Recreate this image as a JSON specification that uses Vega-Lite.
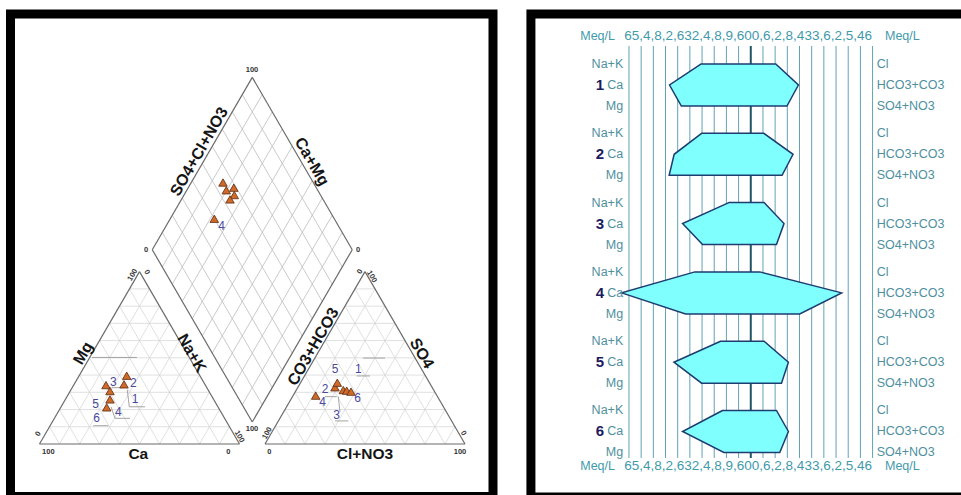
{
  "$schema": "https://vega.github.io/schema/vega-lite/v6.json",
  "width": 961,
  "height": 495,
  "autosize": {"type": "none"},
  "padding": 0,
  "background": "white",
  "config": {"view": {"stroke": null}, "text": {"font": "Liberation Sans"}},
  "datasets": {
    "triGrid": [
      {"x":5,"y":8.66,"x2":95,"y2":8.66},{"x":10,"y":17.32,"x2":90,"y2":17.32},{"x":15,"y":25.98,"x2":85,"y2":25.98},
      {"x":20,"y":34.64,"x2":80,"y2":34.64},{"x":25,"y":43.3,"x2":75,"y2":43.3},{"x":30,"y":51.96,"x2":70,"y2":51.96},
      {"x":35,"y":60.62,"x2":65,"y2":60.62},{"x":40,"y":69.28,"x2":60,"y2":69.28},{"x":45,"y":77.94,"x2":55,"y2":77.94},
      {"x":10,"y":0,"x2":55,"y2":77.94},{"x":20,"y":0,"x2":60,"y2":69.28},{"x":30,"y":0,"x2":65,"y2":60.62},
      {"x":40,"y":0,"x2":70,"y2":51.96},{"x":50,"y":0,"x2":75,"y2":43.3},{"x":60,"y":0,"x2":80,"y2":34.64},
      {"x":70,"y":0,"x2":85,"y2":25.98},{"x":80,"y":0,"x2":90,"y2":17.32},{"x":90,"y":0,"x2":95,"y2":8.66},
      {"x":10,"y":0,"x2":5,"y2":8.66},{"x":20,"y":0,"x2":10,"y2":17.32},{"x":30,"y":0,"x2":15,"y2":25.98},
      {"x":40,"y":0,"x2":20,"y2":34.64},{"x":50,"y":0,"x2":25,"y2":43.3},{"x":60,"y":0,"x2":30,"y2":51.96},
      {"x":70,"y":0,"x2":35,"y2":60.62},{"x":80,"y":0,"x2":40,"y2":69.28},{"x":90,"y":0,"x2":45,"y2":77.94},
      {"x":117.75,"y":8.66,"x2":207.75,"y2":8.66},{"x":122.75,"y":17.32,"x2":202.75,"y2":17.32},{"x":127.75,"y":25.98,"x2":197.75,"y2":25.98},
      {"x":132.75,"y":34.64,"x2":192.75,"y2":34.64},{"x":137.75,"y":43.3,"x2":187.75,"y2":43.3},{"x":142.75,"y":51.96,"x2":182.75,"y2":51.96},
      {"x":147.75,"y":60.62,"x2":177.75,"y2":60.62},{"x":152.75,"y":69.28,"x2":172.75,"y2":69.28},{"x":157.75,"y":77.94,"x2":167.75,"y2":77.94},
      {"x":122.75,"y":0,"x2":167.75,"y2":77.94},{"x":132.75,"y":0,"x2":172.75,"y2":69.28},{"x":142.75,"y":0,"x2":177.75,"y2":60.62},
      {"x":152.75,"y":0,"x2":182.75,"y2":51.96},{"x":162.75,"y":0,"x2":187.75,"y2":43.3},{"x":172.75,"y":0,"x2":192.75,"y2":34.64},
      {"x":182.75,"y":0,"x2":197.75,"y2":25.98},{"x":192.75,"y":0,"x2":202.75,"y2":17.32},{"x":202.75,"y":0,"x2":207.75,"y2":8.66},
      {"x":122.75,"y":0,"x2":117.75,"y2":8.66},{"x":132.75,"y":0,"x2":122.75,"y2":17.32},{"x":142.75,"y":0,"x2":127.75,"y2":25.98},
      {"x":152.75,"y":0,"x2":132.75,"y2":34.64},{"x":162.75,"y":0,"x2":137.75,"y2":43.3},{"x":172.75,"y":0,"x2":142.75,"y2":51.96},
      {"x":182.75,"y":0,"x2":147.75,"y2":60.62},{"x":192.75,"y":0,"x2":152.75,"y2":69.28},{"x":202.75,"y":0,"x2":157.75,"y2":77.94}
    ],
    "diaGrid": [
      {"x":111.38,"y":19.7,"x2":61.38,"y2":106.3},{"x":116.38,"y":28.36,"x2":66.38,"y2":114.96},{"x":121.38,"y":37.02,"x2":71.38,"y2":123.62},
      {"x":126.38,"y":45.68,"x2":76.38,"y2":132.28},{"x":131.38,"y":54.34,"x2":81.38,"y2":140.94},{"x":136.38,"y":63.0,"x2":86.38,"y2":149.6},
      {"x":141.38,"y":71.66,"x2":91.38,"y2":158.26},{"x":146.38,"y":80.32,"x2":96.38,"y2":166.92},{"x":151.38,"y":88.98,"x2":101.38,"y2":175.58},
      {"x":101.38,"y":19.7,"x2":151.38,"y2":106.3},{"x":96.38,"y":28.36,"x2":146.38,"y2":114.96},{"x":91.38,"y":37.02,"x2":141.38,"y2":123.62},
      {"x":86.38,"y":45.68,"x2":136.38,"y2":132.28},{"x":81.38,"y":54.34,"x2":131.38,"y2":140.94},{"x":76.38,"y":63.0,"x2":126.38,"y2":149.6},
      {"x":71.38,"y":71.66,"x2":121.38,"y2":158.26},{"x":66.38,"y":80.32,"x2":116.38,"y2":166.92},{"x":61.38,"y":88.98,"x2":111.38,"y2":175.58}
    ],
    "outline": [
      {"x":0,"y":0,"x2":100,"y2":0},{"x":0,"y":0,"x2":50,"y2":86.6},{"x":100,"y":0,"x2":50,"y2":86.6},
      {"x":112.75,"y":0,"x2":212.75,"y2":0},{"x":112.75,"y":0,"x2":162.75,"y2":86.6},{"x":212.75,"y":0,"x2":162.75,"y2":86.6},
      {"x":106.38,"y":11.04,"x2":56.38,"y2":97.64},{"x":106.38,"y":11.04,"x2":156.38,"y2":97.64},
      {"x":56.38,"y":97.64,"x2":106.38,"y2":184.24},{"x":156.38,"y":97.64,"x2":106.38,"y2":184.24}
    ],
    "leaders": [
      {"x":43.9,"y":27.1,"x2":44.9,"y2":18.7},{"x":44.9,"y":18.7,"x2":52.75,"y2":18.7},{"x":36.1,"y":28.3,"x2":42.75,"y2":28.3},
      {"x":35.75,"y":18.7,"x2":37.75,"y2":12.9},{"x":37.75,"y":12.9,"x2":45.25,"y2":12.9},{"x":26.9,"y":9.2,"x2":34.4,"y2":9.2},
      {"x":26.25,"y":43.5,"x2":48.75,"y2":43.5},{"x":158.6,"y":34.2,"x2":165.25,"y2":34.2},{"x":147.75,"y":11.6,"x2":154.4,"y2":11.6},
      {"x":149.4,"y":23.8,"x2":150.25,"y2":16.2},{"x":142.75,"y":23.8,"x2":148.6,"y2":23.8},{"x":161.75,"y":43.2,"x2":172.75,"y2":43.2}
    ],
    "points": [
      {"x":43.6,"y":34.3},{"x":42.25,"y":30.0},{"x":33.25,"y":29.6},{"x":35.25,"y":26.6},{"x":35.25,"y":22.4},{"x":33.6,"y":18.4},
      {"x":138.1,"y":24.3},{"x":147.75,"y":28.5},{"x":148.9,"y":30.8},{"x":151.9,"y":27.1},{"x":153.6,"y":26.8},{"x":155.75,"y":26.3},
      {"x":91.75,"y":131.4},{"x":93.4,"y":127.5},{"x":97.15,"y":128.8},{"x":97.4,"y":125.1},{"x":95.25,"y":122.9},{"x":87.4,"y":113.2}
    ],
    "piperText": [
      {"t":"Ca","x":49.4,"y":-5.0,"k":"name0"},{"t":"Cl+NO3","x":162.75,"y":-5.0,"k":"name0"},
      {"t":"Mg","x":21.9,"y":45.6,"k":"nameL"},{"t":"CO3+HCO3","x":136.9,"y":48.9,"k":"nameL"},{"t":"SO4+Cl+NO3","x":79.9,"y":146.9,"k":"nameL"},
      {"t":"Na+K","x":76.1,"y":45.6,"k":"nameR"},{"t":"SO4","x":191.1,"y":45.6,"k":"nameR"},{"t":"Ca+Mg","x":136.1,"y":141.9,"k":"nameR"},
      {"t":"100","x":106.25,"y":187.9,"k":"tick0"},{"t":"0","x":53.25,"y":97.5,"k":"tick0"},{"t":"0","x":159.25,"y":97.5,"k":"tick0"},
      {"t":"100","x":106.25,"y":7.5,"k":"tick0"},{"t":"100","x":4.4,"y":-3.9,"k":"tick0"},{"t":"0","x":94.4,"y":-3.9,"k":"tick0"},
      {"t":"0","x":114.9,"y":-3.9,"k":"tick0"},{"t":"100","x":210.25,"y":-3.9,"k":"tick0"},
      {"t":"100","x":46.6,"y":84.9,"k":"tickL"},{"t":"0","x":-0.6,"y":5.0,"k":"tickL"},{"t":"0","x":160.25,"y":86.6,"k":"tickL"},{"t":"100","x":113.9,"y":5.4,"k":"tickL"},
      {"t":"0","x":53.6,"y":86.3,"k":"tickR"},{"t":"100","x":99.9,"y":3.7,"k":"tickR"},{"t":"100","x":166.1,"y":84.1,"k":"tickR"},{"t":"0","x":211.9,"y":5.4,"k":"tickR"},
      {"t":"3","x":36.9,"y":31.0,"k":"sample"},{"t":"2","x":46.9,"y":30.5,"k":"sample"},{"t":"1","x":47.75,"y":22.5,"k":"sample"},
      {"t":"5","x":28.1,"y":20.1,"k":"sample"},{"t":"4","x":39.4,"y":16.2,"k":"sample"},{"t":"6","x":28.6,"y":12.9,"k":"sample"},
      {"t":"5","x":147.75,"y":37.5,"k":"sample"},{"t":"1","x":159.4,"y":37.5,"k":"sample"},{"t":"2","x":142.75,"y":27.6,"k":"sample"},
      {"t":"4","x":141.6,"y":20.9,"k":"sample"},{"t":"6","x":159.1,"y":22.9,"k":"sample"},{"t":"3","x":148.6,"y":14.6,"k":"sample"},
      {"t":"4","x":91.1,"y":109.7,"k":"sample"}
    ],
    "frameL": [{"x":-14.5,"x2":226.75,"y":216.08,"y2":-26.38}],
    "stiffGrid": [
      {"m":-10},{"m":-9},{"m":-8},{"m":-7},{"m":-6},{"m":-5},{"m":-4},{"m":-3},{"m":-2},{"m":-1},
      {"m":1},{"m":2},{"m":3},{"m":4},{"m":5},{"m":6},{"m":7},{"m":8},{"m":9},{"m":10}
    ],
    "stiff": [
      {"s":1,"r":1,"cat":-4.07,"an":2.05},{"s":1,"r":2,"cat":-6.67,"an":3.91},{"s":1,"r":3,"cat":-5.7,"an":2.97},
      {"s":2,"r":4.3,"cat":-4.04,"an":1.07},{"s":2,"r":5.3,"cat":-6.29,"an":3.47},{"s":2,"r":6.3,"cat":-6.7,"an":2.57},
      {"s":3,"r":7.6,"cat":-1.8,"an":1.09},{"s":3,"r":8.6,"cat":-5.6,"an":2.73},{"s":3,"r":9.6,"cat":-3.96,"an":2.11},
      {"s":4,"r":10.9,"cat":-4.59,"an":0.74},{"s":4,"r":11.9,"cat":-10.6,"an":7.46},{"s":4,"r":12.9,"cat":-5.35,"an":4.02},
      {"s":5,"r":14.2,"cat":-2.48,"an":1.09},{"s":5,"r":15.2,"cat":-6.31,"an":3.09},{"s":5,"r":16.2,"cat":-4.04,"an":2.52},
      {"s":6,"r":17.5,"cat":-2.32,"an":2.11},{"s":6,"r":18.5,"cat":-5.6,"an":3.09},{"s":6,"r":19.5,"cat":-2.21,"an":2.38}
    ],
    "ionL": [
      {"t":"Na+K","r":1},{"t":"Ca","r":2},{"t":"Mg","r":3},
      {"t":"Na+K","r":4.3},{"t":"Ca","r":5.3},{"t":"Mg","r":6.3},
      {"t":"Na+K","r":7.6},{"t":"Ca","r":8.6},{"t":"Mg","r":9.6},
      {"t":"Na+K","r":10.9},{"t":"Ca","r":11.9},{"t":"Mg","r":12.9},
      {"t":"Na+K","r":14.2},{"t":"Ca","r":15.2},{"t":"Mg","r":16.2},
      {"t":"Na+K","r":17.5},{"t":"Ca","r":18.5},{"t":"Mg","r":19.5}
    ],
    "ionR": [
      {"t":"Cl","r":1},{"t":"HCO3+CO3","r":2},{"t":"SO4+NO3","r":3},
      {"t":"Cl","r":4.3},{"t":"HCO3+CO3","r":5.3},{"t":"SO4+NO3","r":6.3},
      {"t":"Cl","r":7.6},{"t":"HCO3+CO3","r":8.6},{"t":"SO4+NO3","r":9.6},
      {"t":"Cl","r":10.9},{"t":"HCO3+CO3","r":11.9},{"t":"SO4+NO3","r":12.9},
      {"t":"Cl","r":14.2},{"t":"HCO3+CO3","r":15.2},{"t":"SO4+NO3","r":16.2},
      {"t":"Cl","r":17.5},{"t":"HCO3+CO3","r":18.5},{"t":"SO4+NO3","r":19.5}
    ],
    "sampleNo": [
      {"t":"1","r":2},{"t":"2","r":5.3},{"t":"3","r":8.6},{"t":"4","r":11.9},{"t":"5","r":15.2},{"t":"6","r":18.5}
    ],
    "axisRows": [
      {"unit":"Meq/L","nums":"65,4,8,2,632,4,8,9,600,6,2,8,433,6,2,5,46","r":-0.333},
      {"unit":"Meq/L","nums":"65,4,8,2,632,4,8,9,600,6,2,8,433,6,2,5,46","r":20.14}
    ],
    "frameR": [{"x":-18.05,"x2":18.3,"y":-1.381,"y2":21.62}]
  },
  "layer": [
    {
      "layer": [
        {
          "data": {"name": "triGrid"},
          "mark": {"type": "rule", "color": "#d2d2d2", "strokeWidth": 0.7},
          "encoding": {
            "x": {"field": "x", "type": "quantitative", "scale": {"domain": [-19.75, 460.75], "nice": false, "zero": false}, "axis": null},
            "y": {"field": "y", "type": "quantitative", "scale": {"domain": [-25.63, 223.12], "nice": false, "zero": false}, "axis": null},
            "x2": {"field": "x2"},
            "y2": {"field": "y2"}
          }
        },
        {
          "data": {"name": "diaGrid"},
          "mark": {"type": "rule", "color": "#bdbdbd", "strokeWidth": 0.8},
          "encoding": {
            "x": {"field": "x", "type": "quantitative", "scale": {"domain": [-19.75, 460.75], "nice": false, "zero": false}, "axis": null},
            "y": {"field": "y", "type": "quantitative", "scale": {"domain": [-25.63, 223.12], "nice": false, "zero": false}, "axis": null},
            "x2": {"field": "x2"},
            "y2": {"field": "y2"}
          }
        },
        {
          "data": {"name": "leaders"},
          "mark": {"type": "rule", "color": "#9a9a9a", "strokeWidth": 0.9},
          "encoding": {
            "x": {"field": "x", "type": "quantitative", "scale": {"domain": [-19.75, 460.75], "nice": false, "zero": false}, "axis": null},
            "y": {"field": "y", "type": "quantitative", "scale": {"domain": [-25.63, 223.12], "nice": false, "zero": false}, "axis": null},
            "x2": {"field": "x2"},
            "y2": {"field": "y2"}
          }
        },
        {
          "data": {"name": "outline"},
          "mark": {"type": "rule", "color": "#6a6a6a", "strokeWidth": 1.2},
          "encoding": {
            "x": {"field": "x", "type": "quantitative", "scale": {"domain": [-19.75, 460.75], "nice": false, "zero": false}, "axis": null},
            "y": {"field": "y", "type": "quantitative", "scale": {"domain": [-25.63, 223.12], "nice": false, "zero": false}, "axis": null},
            "x2": {"field": "x2"},
            "y2": {"field": "y2"}
          }
        },
        {
          "data": {"name": "points"},
          "mark": {"type": "point", "shape": "triangle-up", "filled": true, "fill": "#cf6a2a", "stroke": "#5c2a0c", "strokeWidth": 0.8, "size": 72, "opacity": 1},
          "encoding": {
            "x": {"field": "x", "type": "quantitative", "scale": {"domain": [-19.75, 460.75], "nice": false, "zero": false}, "axis": null},
            "y": {"field": "y", "type": "quantitative", "scale": {"domain": [-25.63, 223.12], "nice": false, "zero": false}, "axis": null}
          }
        },
        {
          "data": {"name": "piperText"},
          "transform": [{"filter": "datum.k === 'name0'"}],
          "mark": {"type": "text", "fontSize": 15.5, "fontWeight": "bold", "color": "#151515", "align": "center", "baseline": "middle"},
          "encoding": {
            "x": {"field": "x", "type": "quantitative", "scale": {"domain": [-19.75, 460.75], "nice": false, "zero": false}, "axis": null},
            "y": {"field": "y", "type": "quantitative", "scale": {"domain": [-25.63, 223.12], "nice": false, "zero": false}, "axis": null},
            "text": {"field": "t"}
          }
        },
        {
          "data": {"name": "piperText"},
          "transform": [{"filter": "datum.k === 'nameL'"}],
          "mark": {"type": "text", "fontSize": 16, "fontWeight": "bold", "color": "#151515", "align": "center", "baseline": "middle", "angle": 300},
          "encoding": {
            "x": {"field": "x", "type": "quantitative", "scale": {"domain": [-19.75, 460.75], "nice": false, "zero": false}, "axis": null},
            "y": {"field": "y", "type": "quantitative", "scale": {"domain": [-25.63, 223.12], "nice": false, "zero": false}, "axis": null},
            "text": {"field": "t"}
          }
        },
        {
          "data": {"name": "piperText"},
          "transform": [{"filter": "datum.k === 'nameR'"}],
          "mark": {"type": "text", "fontSize": 16, "fontWeight": "bold", "color": "#151515", "align": "center", "baseline": "middle", "angle": 60},
          "encoding": {
            "x": {"field": "x", "type": "quantitative", "scale": {"domain": [-19.75, 460.75], "nice": false, "zero": false}, "axis": null},
            "y": {"field": "y", "type": "quantitative", "scale": {"domain": [-25.63, 223.12], "nice": false, "zero": false}, "axis": null},
            "text": {"field": "t"}
          }
        },
        {
          "data": {"name": "piperText"},
          "transform": [{"filter": "datum.k === 'tick0'"}],
          "mark": {"type": "text", "fontSize": 7.5, "fontWeight": "bold", "color": "#333333", "align": "center", "baseline": "middle"},
          "encoding": {
            "x": {"field": "x", "type": "quantitative", "scale": {"domain": [-19.75, 460.75], "nice": false, "zero": false}, "axis": null},
            "y": {"field": "y", "type": "quantitative", "scale": {"domain": [-25.63, 223.12], "nice": false, "zero": false}, "axis": null},
            "text": {"field": "t"}
          }
        },
        {
          "data": {"name": "piperText"},
          "transform": [{"filter": "datum.k === 'tickL'"}],
          "mark": {"type": "text", "fontSize": 7.5, "fontWeight": "bold", "color": "#333333", "align": "center", "baseline": "middle", "angle": 300},
          "encoding": {
            "x": {"field": "x", "type": "quantitative", "scale": {"domain": [-19.75, 460.75], "nice": false, "zero": false}, "axis": null},
            "y": {"field": "y", "type": "quantitative", "scale": {"domain": [-25.63, 223.12], "nice": false, "zero": false}, "axis": null},
            "text": {"field": "t"}
          }
        },
        {
          "data": {"name": "piperText"},
          "transform": [{"filter": "datum.k === 'tickR'"}],
          "mark": {"type": "text", "fontSize": 7.5, "fontWeight": "bold", "color": "#333333", "align": "center", "baseline": "middle", "angle": 60},
          "encoding": {
            "x": {"field": "x", "type": "quantitative", "scale": {"domain": [-19.75, 460.75], "nice": false, "zero": false}, "axis": null},
            "y": {"field": "y", "type": "quantitative", "scale": {"domain": [-25.63, 223.12], "nice": false, "zero": false}, "axis": null},
            "text": {"field": "t"}
          }
        },
        {
          "data": {"name": "piperText"},
          "transform": [{"filter": "datum.k === 'sample'"}],
          "mark": {"type": "text", "fontSize": 12, "color": "#4a4a9c", "align": "center", "baseline": "middle"},
          "encoding": {
            "x": {"field": "x", "type": "quantitative", "scale": {"domain": [-19.75, 460.75], "nice": false, "zero": false}, "axis": null},
            "y": {"field": "y", "type": "quantitative", "scale": {"domain": [-25.63, 223.12], "nice": false, "zero": false}, "axis": null},
            "text": {"field": "t"}
          }
        },
        {
          "data": {"name": "frameL"},
          "mark": {"type": "rect", "fill": null, "fillOpacity": 0, "stroke": "#000000", "strokeWidth": 9},
          "encoding": {
            "x": {"field": "x", "type": "quantitative", "scale": {"domain": [-19.75, 460.75], "nice": false, "zero": false}, "axis": null},
            "y": {"field": "y", "type": "quantitative", "scale": {"domain": [-25.63, 223.12], "nice": false, "zero": false}, "axis": null},
            "x2": {"field": "x2"},
            "y2": {"field": "y2"}
          }
        }
      ]
    },
    {
      "layer": [
        {
          "data": {"name": "stiffGrid"},
          "mark": {"type": "rule", "color": "#62a3b1", "strokeWidth": 1},
          "encoding": {
            "x": {"field": "m", "type": "quantitative", "scale": {"domain": [-61.64, 17.26], "nice": false, "zero": false}, "axis": null},
            "y": {"datum": 0.143, "type": "quantitative", "scale": {"domain": [-2.0476, 21.524], "reverse": true, "nice": false, "zero": false}, "axis": null},
            "y2": {"datum": 19.76}
          }
        },
        {
          "data": {"values": [{"m": 0}]},
          "mark": {"type": "rule", "color": "#1f5566", "strokeWidth": 2},
          "encoding": {
            "x": {"field": "m", "type": "quantitative", "scale": {"domain": [-61.64, 17.26], "nice": false, "zero": false}, "axis": null},
            "y": {"datum": 0.143, "type": "quantitative", "scale": {"domain": [-2.0476, 21.524], "reverse": true, "nice": false, "zero": false}, "axis": null},
            "y2": {"datum": 19.76}
          }
        },
        {
          "data": {"name": "stiff"},
          "mark": {"type": "area", "orient": "horizontal", "fill": "#80ffff", "fillOpacity": 1, "stroke": "#1d3c70", "strokeWidth": 1.5, "strokeJoin": "miter"},
          "encoding": {
            "y": {"field": "r", "type": "quantitative", "scale": {"domain": [-2.0476, 21.524], "reverse": true, "nice": false, "zero": false}, "axis": null},
            "x": {"field": "cat", "type": "quantitative", "scale": {"domain": [-61.64, 17.26], "nice": false, "zero": false}, "axis": null},
            "x2": {"field": "an"},
            "detail": {"field": "s", "type": "nominal"}
          }
        },
        {
          "data": {"name": "ionL"},
          "mark": {"type": "text", "fontSize": 12.5, "color": "#4f909e", "align": "right", "baseline": "middle"},
          "encoding": {
            "x": {"datum": -10.47, "type": "quantitative", "scale": {"domain": [-61.64, 17.26], "nice": false, "zero": false}, "axis": null},
            "y": {"field": "r", "type": "quantitative", "scale": {"domain": [-2.0476, 21.524], "reverse": true, "nice": false, "zero": false}, "axis": null},
            "text": {"field": "t"}
          }
        },
        {
          "data": {"name": "ionR"},
          "mark": {"type": "text", "fontSize": 12.5, "color": "#4f909e", "align": "left", "baseline": "middle"},
          "encoding": {
            "x": {"datum": 10.34, "type": "quantitative", "scale": {"domain": [-61.64, 17.26], "nice": false, "zero": false}, "axis": null},
            "y": {"field": "r", "type": "quantitative", "scale": {"domain": [-2.0476, 21.524], "reverse": true, "nice": false, "zero": false}, "axis": null},
            "text": {"field": "t"}
          }
        },
        {
          "data": {"name": "sampleNo"},
          "mark": {"type": "text", "fontSize": 15, "fontWeight": "bold", "color": "#1c1c5e", "align": "right", "baseline": "middle"},
          "encoding": {
            "x": {"datum": -12.05, "type": "quantitative", "scale": {"domain": [-61.64, 17.26], "nice": false, "zero": false}, "axis": null},
            "y": {"field": "r", "type": "quantitative", "scale": {"domain": [-2.0476, 21.524], "reverse": true, "nice": false, "zero": false}, "axis": null},
            "text": {"field": "t"}
          }
        },
        {
          "data": {"name": "axisRows"},
          "mark": {"type": "text", "fontSize": 12.5, "color": "#3f9aab", "align": "right", "baseline": "middle"},
          "encoding": {
            "x": {"datum": -11.15, "type": "quantitative", "scale": {"domain": [-61.64, 17.26], "nice": false, "zero": false}, "axis": null},
            "y": {"field": "r", "type": "quantitative", "scale": {"domain": [-2.0476, 21.524], "reverse": true, "nice": false, "zero": false}, "axis": null},
            "text": {"field": "unit"}
          }
        },
        {
          "data": {"name": "axisRows"},
          "mark": {"type": "text", "fontSize": 13.5, "color": "#3f9aab", "align": "left", "baseline": "middle"},
          "encoding": {
            "x": {"datum": -10.39, "type": "quantitative", "scale": {"domain": [-61.64, 17.26], "nice": false, "zero": false}, "axis": null},
            "y": {"field": "r", "type": "quantitative", "scale": {"domain": [-2.0476, 21.524], "reverse": true, "nice": false, "zero": false}, "axis": null},
            "text": {"field": "nums"}
          }
        },
        {
          "data": {"name": "axisRows"},
          "mark": {"type": "text", "fontSize": 12.5, "color": "#3f9aab", "align": "left", "baseline": "middle"},
          "encoding": {
            "x": {"datum": 11.02, "type": "quantitative", "scale": {"domain": [-61.64, 17.26], "nice": false, "zero": false}, "axis": null},
            "y": {"field": "r", "type": "quantitative", "scale": {"domain": [-2.0476, 21.524], "reverse": true, "nice": false, "zero": false}, "axis": null},
            "text": {"field": "unit"}
          }
        },
        {
          "data": {"name": "frameR"},
          "mark": {"type": "rect", "fill": null, "fillOpacity": 0, "stroke": "#000000", "strokeWidth": 9},
          "encoding": {
            "x": {"field": "x", "type": "quantitative", "scale": {"domain": [-61.64, 17.26], "nice": false, "zero": false}, "axis": null},
            "y": {"field": "y", "type": "quantitative", "scale": {"domain": [-2.0476, 21.524], "reverse": true, "nice": false, "zero": false}, "axis": null},
            "x2": {"field": "x2"},
            "y2": {"field": "y2"}
          }
        }
      ]
    }
  ],
  "resolve": {"scale": {"x": "independent", "y": "independent"}}
}
